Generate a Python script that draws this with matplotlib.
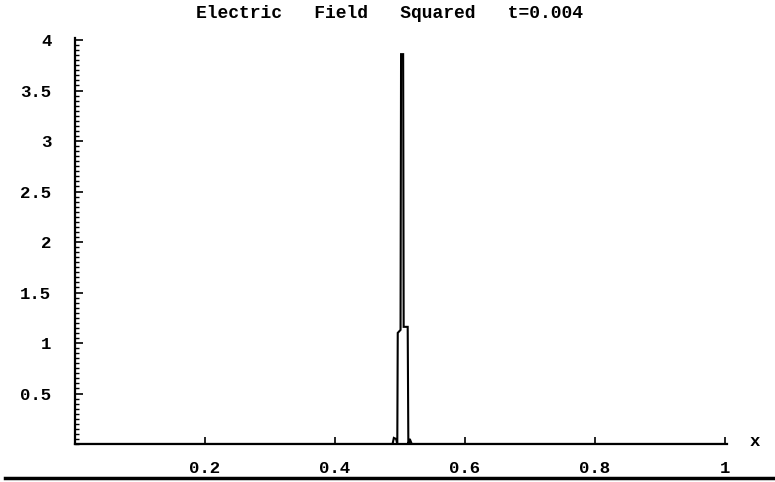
#electric field squared snapshot, t=0.004
import matplotlib
matplotlib.use('Agg')
import matplotlib.pyplot as plt
from matplotlib.ticker import MultipleLocator, FuncFormatter

# curve points
x_pts = [0.0, 0.4885, 0.4905, 0.4940, 0.4958, 0.4965, 0.5008, 0.5016, 0.5048, 0.5056, 0.5118, 0.5128, 0.5150, 0.5180, 1.0]
e2_pts = [0.0, 0.0, 0.06, 0.05, 0.0, 1.10, 1.13, 3.86, 3.86, 1.16, 1.16, 0.0, 0.05, 0.0, 0.0]

x_ticks = [0.2, 0.4, 0.6, 0.8, 1.0]
y_ticks = [0.5, 1.0, 1.5, 2.0, 2.5, 3.0, 3.5, 4.0]
title = "Electric   Field   Squared   t=0.004"

plt.rcParams['font.family'] = ['Liberation Mono', 'DejaVu Sans Mono']
plt.rcParams['font.weight'] = 'bold'

W, H = 775, 482
fig = plt.figure(figsize=(W/100, H/100), dpi=100)
ax = fig.add_axes([75/W, (H-444)/H, (727-75)/W, (444-38)/H])

ax.plot(x_pts, e2_pts, color='black', lw=1.5, solid_joinstyle='miter')
ax.set_xlim(0, 1.003)
ax.set_ylim(0, 4.02)

for s in ['top', 'right']:
    ax.spines[s].set_visible(False)
for s in ['left', 'bottom']:
    ax.spines[s].set_linewidth(1.6)

def fmt(v, pos):
    s = ('%.1f' % v).rstrip('0').rstrip('.')
    return s

ax.set_xticks(x_ticks)
ax.set_yticks(y_ticks)
ax.xaxis.set_major_formatter(FuncFormatter(fmt))
ax.yaxis.set_major_formatter(FuncFormatter(fmt))
ax.yaxis.set_minor_locator(MultipleLocator(0.05))
ax.tick_params(axis='both', which='both', direction='in', labelsize=12.5, width=1.2, color='black')
ax.tick_params(axis='x', length=5, pad=12)
ax.tick_params(axis='y', which='major', length=6, pad=17)
ax.tick_params(axis='y', which='minor', length=3, width=1.0)

fig.text(755/W, 1-441/H, 'x', ha='center', va='center', fontsize=12.5)
fig.text(390/W, 1-13/H, title, ha='center', va='center', fontsize=13)

# rule under the picture
fig.add_artist(plt.Line2D([5/W, 1.0], [1-478/H, 1-478/H], color='black', lw=2.5))

fig.savefig('out.png', dpi=100)
